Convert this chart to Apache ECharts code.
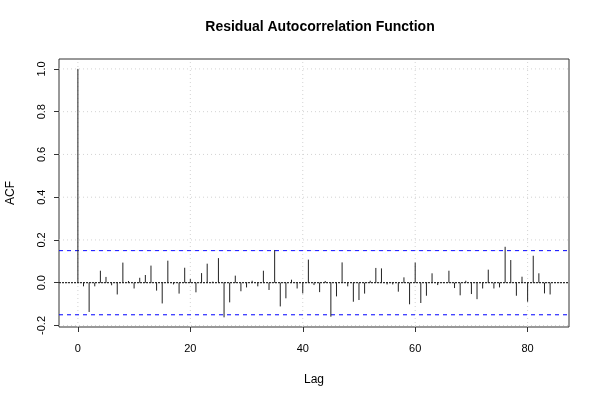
<!DOCTYPE html>
<html><head><meta charset="utf-8">
<script src="https://cdn.jsdelivr.net/npm/echarts@6/dist/echarts.min.js"></script>
<style>html,body{margin:0;padding:0;background:#fff}#c{width:600px;height:400px}</style>
</head><body><div id="c"></div>
<script>
var acfValues = [1.0,-0.017,-0.137,-0.017,0.056,0.027,-0.012,-0.055,0.094,0.008,
-0.027,0.023,0.036,0.080,-0.037,-0.097,0.103,-0.008,-0.051,0.070,
0.017,-0.045,0.045,0.089,0.005,0.115,-0.162,-0.092,0.033,-0.040,
-0.022,0.009,-0.017,0.056,-0.034,0.153,-0.111,-0.073,0.014,-0.027,
-0.050,0.108,-0.011,-0.044,0.008,-0.159,-0.064,0.095,-0.017,-0.089,
-0.081,-0.051,0.009,0.069,0.067,-0.008,-0.008,-0.042,0.025,-0.101,
0.094,-0.095,-0.061,0.044,-0.011,0.003,0.056,-0.025,-0.059,0.009,
-0.053,-0.077,-0.027,0.061,-0.027,-0.022,0.168,0.106,-0.061,0.028,
-0.089,0.126,0.044,-0.050,-0.055];
var confLimit = 0.15;
var xTicks = [0,20,40,60,80];
var yTicks = [-0.2,0,0.2,0.4,0.6,0.8,1.0];
var titleText = 'Residual Autocorrelation Function';
var xName = 'Lag', yName = 'ACF';

var X_MIN = -3.36, X_MAX = 87.36, Y_MIN = -0.2072, Y_MAX = 1.0464;
var barData = acfValues.map(function(v,i){return [i,v];});
var FONT = 'Liberation Sans, Arial, sans-serif';
var chart = echarts.init(document.getElementById('c'));

function hline(val,color,type,z){
  return {type:'line',data:[[X_MIN,val],[X_MAX,val]],silent:true,z:z,symbol:'none',
    lineStyle:{color:color,type:type,width:1},itemStyle:{color:color}};
}
function vline(val,color,type,z){
  return {type:'line',data:[[val,Y_MIN],[val,Y_MAX]],silent:true,z:z,symbol:'none',
    lineStyle:{color:color,type:type,width:1},itemStyle:{color:color}};
}
var series = [];
xTicks.forEach(function(t){series.push(vline(t,'#d3d3d3',[1,3],1));});
yTicks.forEach(function(t){series.push(hline(t,'#d3d3d3',[1,3],1));});
series.push(hline(0,'#000',[2,1],3));
series.push(hline(confLimit,'#0000ff',[4,4],3));
series.push(hline(-confLimit,'#0000ff',[4,4],3));
series.push({type:'custom',data:barData,silent:true,z:5,
  renderItem:function(params,api){
    var p0=api.coord([api.value(0),0]);
    var p1=api.coord([api.value(0),api.value(1)]);
    return {type:'line',shape:{x1:p0[0],y1:p0[1],x2:p1[0],y2:p1[1]},
      style:{stroke:'#222',lineWidth:1}};
  }});

chart.setOption({
  animation:false,
  backgroundColor:'#fff',
  title:{text:titleText,left:315,top:15,textAlign:'center',
    textStyle:{fontFamily:FONT,fontSize:14,fontWeight:'bold',color:'#000'}},
  grid:{left:59,right:31,top:59,bottom:73,outerBoundsMode:'none',containLabel:false,
    show:true,borderColor:'#333',borderWidth:1,backgroundColor:'transparent'},
  xAxis:{type:'value',min:X_MIN,max:X_MAX,name:xName,nameLocation:'middle',nameGap:47,
    nameTextStyle:{fontFamily:FONT,fontSize:12,color:'#000'},
    axisLine:{show:false,onZero:false},
    axisTick:{show:true,customValues:xTicks,length:5,inside:false,lineStyle:{color:'#333'}},
    axisLabel:{customValues:xTicks,margin:16,fontFamily:FONT,fontSize:11,color:'#000'},
    splitLine:{show:false}},
  yAxis:{type:'value',min:Y_MIN,max:Y_MAX,name:yName,nameLocation:'middle',nameGap:42,
    nameTextStyle:{fontFamily:FONT,fontSize:12,color:'#000'},
    axisLine:{show:false,onZero:false},
    axisTick:{show:true,customValues:yTicks,length:5,lineStyle:{color:'#333'}},
    axisLabel:{customValues:yTicks,rotate:90,margin:12,fontFamily:FONT,fontSize:11,color:'#000',
      formatter:function(v){return (Math.round(v*10)/10).toFixed(1);}},
    splitLine:{show:false}},
  series:series
});
</script></body></html>
